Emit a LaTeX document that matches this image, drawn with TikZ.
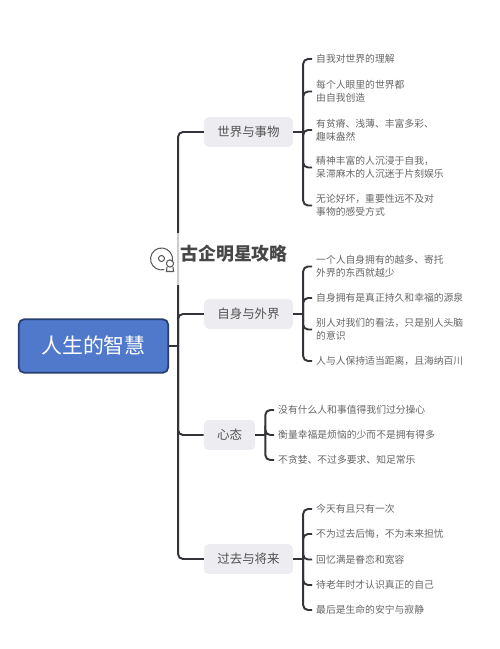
\documentclass[tikz,border=0pt]{standalone}
\usepackage{fontspec}
\setmainfont{Noto Sans CJK SC}
\definecolor{rootblue}{HTML}{5079CB}
\definecolor{rootedge}{HTML}{263F70}
\definecolor{branchgray}{HTML}{EDEDF1}
\definecolor{linkdark}{HTML}{33343A}
\definecolor{leaftext}{HTML}{666666}
\tikzset{
  rootbox/.style={draw=rootedge, line width=1pt, fill=rootblue, rounded corners=3pt,
    text=white, minimum width=85pt, minimum height=30.4pt, inner sep=0pt,
    font=\fontsize{11.9}{14}\selectfont},
  branchbox/.style={fill=branchgray, rounded corners=2.5pt, text=black!68,
    minimum height=17pt, inner sep=0pt, font=\fontsize{7.1}{9}\selectfont},
  leafnode/.style={anchor=west, align=left, text=leaftext, inner xsep=2.2pt, inner ysep=0pt,
    font=\fontsize{5.58}{7.4}\selectfont},
  link/.style={draw=linkdark, line width=1.1pt, rounded corners=2.8pt},
  markicon/.style={draw=black!65, line width=0.6pt}
}
\begin{document}
\begin{tikzpicture}[x=0.02cm, y=-0.02cm]
  \useasboundingbox (0,0) rectangle (500,649);

  % leaf column
  \def\lx{312}
  \def\lxs{274}

  % root and branches
  \node[rootbox] (root) at (93.5,346) {人生的智慧};
  \node[branchbox, minimum width=50.4pt] (world) at (248.5,132) {世界与事物};
  \node[branchbox, minimum width=50.4pt] (self) at (248.5,314) {自身与外界};
  \node[branchbox, minimum width=29pt] (mind) at (229.5,435) {心态};
  \node[branchbox, minimum width=50.4pt] (time) at (248.5,559) {过去与将来};

  \draw[link] (root.east) -- ++(9,0) coordinate (trunk);
  \foreach \b in {world,self,mind,time}
  \draw[link] (trunk) |- (\b.west);

  % world leaves
  \draw[link] (world.east) -- ++(10,0) coordinate (wj);
  \foreach \n/\ypos/\txt in {
    wa/59/{自我对世界的理解},
    wb/91.5/{每个人眼里的世界都\\由自我创造},
    wc/130/{有贫瘠、浅薄、丰富多彩、\\趣味盎然},
    wd/167.5/{精神丰富的人沉浸于自我，\\呆滞麻木的人沉迷于片刻娱乐},
    we/205.5/{无论好坏，重要性远不及对\\事物的感受方式}}
  {
    \node[leafnode] (\n) at (\lx,\ypos) {\txt};
    \draw[link] (wj) |- (\n.west);
  }

  % self leaves
  \draw[link] (self.east) -- ++(10,0) coordinate (sj);
  \foreach \n/\ypos/\txt in {
    sa/266.5/{一个人自身拥有的越多、寄托\\外界的东西就越少},
    sb/298/{自身拥有是真正持久和幸福的源泉},
    sc/329.5/{别人对我们的看法，只是别人头脑\\的意识},
    sd/361/{人与人保持适当距离，且海纳百川}}
  {
    \node[leafnode] (\n) at (\lx,\ypos) {\txt};
    \draw[link] (sj) |- (\n.west);
  }

  % mind leaves
  \draw[link] (mind.east) -- ++(10,0) coordinate (mj);
  \foreach \n/\ypos/\txt in {
    ma/410/{没有什么人和事值得我们过分操心},
    mb/435/{衡量幸福是烦恼的少而不是拥有得多},
    mc/460/{不贪婪、不过多要求、知足常乐}}
  {
    \node[leafnode] (\n) at (\lxs,\ypos) {\txt};
    \draw[link] (mj) |- (\n.west);
  }

  % time leaves
  \draw[link] (time.east) -- ++(10,0) coordinate (tj);
  \foreach \n/\ypos/\txt in {
    ta/509/{今天有且只有一次},
    tb/534/{不为过去后悔，不为未来担忧},
    tc/559.5/{回忆满是眷恋和宽容},
    td/585/{待老年时才认识真正的自己},
    te/610/{最后是生命的安宁与寂静}}
  {
    \node[leafnode] (\n) at (\lx,\ypos) {\txt};
    \draw[link] (tj) |- (\n.west);
  }

  % watermark
  \fill[white, opacity=0.75] (176,233) rectangle (180,285);
  \node[text=black!72, inner sep=0pt, font=\fontsize{10.2}{12}\selectfont\bfseries]
    (mark) at (234,253.5) {古企明星攻略};
  \draw[markicon] (164.4,269.6) arc (75:375:11);
  \draw[markicon] (161.5,258.5) circle (3);
  \draw[markicon] (170,263.5) circle (3.6);
  \draw[markicon] (167,267) -- (166.5,271.5) -- (173.5,271.5) -- (173,267);
\end{tikzpicture}
\end{document}
